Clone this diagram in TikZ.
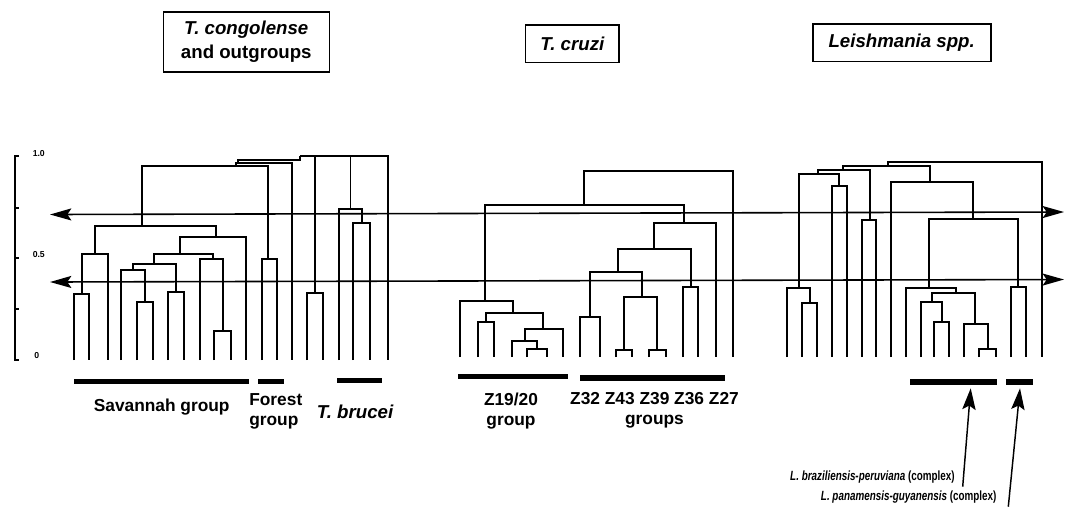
\documentclass[tikz,border=0pt]{standalone}
\usepackage{fontspec}
\setmainfont{Liberation Sans}
\newfontfamily\narrowsans[FakeStretch=0.74]{Liberation Sans}
\usetikzlibrary{arrows.meta}

\tikzset{
  link/.style={line width=1.3pt},
  bar/.style={line width=3.8pt},
  titlebox/.style={draw,line width=1.2pt,align=center,inner sep=0pt,
    font=\fontsize{14}{17.5}\selectfont\bfseries},
  grouplabel/.style={align=center,inner sep=0pt,
    font=\fontsize{13}{15}\selectfont\bfseries},
  cutline/.style={line width=1.2pt,
    {Stealth[length=16pt,width=9pt,inset=3pt]}-{Stealth[length=16pt,width=9pt,inset=3pt]}},
  pointer/.style={line width=1.1pt,-{Stealth[length=16pt,width=10pt,inset=3pt]}},
}

\begin{document}
\begin{tikzpicture}[x=0.75pt,y=-0.75pt]
        \useasboundingbox (0,0) rectangle (1065,508);

        % title boxes
        \begin{scope}[every node/.style={titlebox}]
          \node[minimum width=124.5pt,minimum height=45pt] (congo) at (246.3,41.7)
            {{\itshape T. congolense}\\and outgroups};
          \node[minimum width=70pt,minimum height=28pt] (cruzi) at (572.3,43.7)
            {\itshape T. cruzi};
          \node[minimum width=133.5pt,minimum height=28.3pt] (leish) at (901.7,42.8)
            {\itshape Leishmania spp.};
        \end{scope}

        % similarity scale
        \draw[link] (19,156) -- (15,156) -- (15,360) -- (19,360);
        \foreach \y in {207.7,257.7,309}
          \draw[link] (15,\y) -- (19,\y);
        \begin{scope}[every node/.style={anchor=west,inner sep=0pt,
            font=\fontsize{6.5}{7}\selectfont\bfseries}]
          \node (s10) at (32.5,154) {1.0};
          \node (s05) at (32.5,254.3) {0.5};
          \node (s00) at (34,356) {0};
        \end{scope}

        % dendrograms: x1/y1/x2/y2/height
        \foreach \xa/\ya/\xb/\yb/\h in {
            74/360/89.3/360/294, 81.7/294/107.7/360/254.3,
            136.7/360/153.3/360/301.7, 121/360/145/301.7/270,
            168.3/360/184.3/360/291.7, 132.7/270/176/291.7/264.3,
            214.3/360/231/360/331, 200/360/222.7/331/259.3,
            154/264.3/213.3/259.3/254.3, 180/254.3/246/360/237.3,
            95/254.3/216/237.3/226, 261.7/360/277.3/360/259.3,
            141.7/226/268.3/259.3/166, 306.7/360/323.3/360/292.7,
            353.3/360/370/360/223.3, 339.3/360/361.7/223.3/209.3,
            477.7/357/494/357/321.7, 527.3/357/547.3/357/349.3,
            512.3/357/537.3/349.3/341, 525/341/562.7/357/329.3,
            486/321.7/543.3/329.3/313.3, 460/357/513.3/313.3/301,
            580/357/600/357/316.7, 616/357/632.3/357/350,
            649.3/357/666/357/350, 624/350/657.3/350/296.7,
            590/316.7/641.7/296.7/271.7, 682.7/357/698.3/357/286.7,
            617.7/271.7/690.7/286.7/249, 654.3/249/716/357/223.3,
            485/301/684.3/223.3/205, 584/205/732.7/357/170.7,
            802.3/357/817.3/357/302.7, 786.7/357/810/302.7/288.3,
            831.7/357/847.3/357/186, 799.3/288.3/839.3/186/174.3,
            861.7/357/876/357/220, 818.3/174.3/870/220/170,
            934.3/357/949.3/357/321.7, 979.3/357/996/357/349.3,
            964.3/357/987.7/349.3/324.3, 921/357/941.7/321.7/302.3,
            931.7/302.3/975/324.3/293.3, 905.7/357/955.7/293.3/288.3,
            1011/357/1025.7/357/286.7, 929.3/288.3/1018.3/286.7/219.3,
            890.7/357/973.3/219.3/181.7, 843.3/170/930/181.7/166,
            887.7/166/1042.3/357/161.7}
          \draw[link] (\xa,\ya) |- (\xb,\h) -- (\xb,\yb);
        % top of the left tree
        \draw[link] (236,166) |- (292.3,163) -- (292.3,360);
        \draw[link] (238,163) -- (238,160) -- (300,160) -- (300,156);
        \draw[link] (300,156) -- (388.3,156) -- (388.3,360);
        \draw[link] (315,156) -- (315,292.7);
        \draw[link] (350.5,156) -- (350.5,209.3);

        % cut levels
        \coordinate (upL) at (50,214.5);
        \coordinate (upR) at (1064,212);
        \coordinate (loL) at (50,282);
        \coordinate (loR) at (1064,279.5);
        \draw[cutline] (upL) -- (upR);
        \draw[cutline] (loL) -- (loR);

        % group bars
        \draw[bar] (74,381.7) -- (249.3,381.7);
        \draw[bar] (258.3,381.7) -- (284.3,381.7);
        \draw[bar] (337.3,380.3) -- (382.3,380.3);
        \draw[bar] (458.3,376.7) -- (568.3,376.7);
        \draw[bar] (580,378) -- (725,378);
        \draw[bar] (910,382) -- (996.7,382);
        \draw[bar] (1006,382) -- (1033.3,382);

        % group labels
        \begin{scope}[every node/.style={grouplabel}]
          \node (sav) at (161.7,406.7) {Savannah group};
          \node[align=left] (forest) at (275.8,411.8) {Forest\\group};
          \node[font=\fontsize{14}{16}\selectfont\bfseries\itshape] (bru) at (355,411.7) {T. brucei};
          \node (z19) at (511,410.7) {Z19/20\\group};
          \node (z32) at (654.5,410) {Z32 Z43 Z39 Z36 Z27\\groups};
        \end{scope}

        \begin{scope}[every node/.style={anchor=east,inner sep=0pt,
            font=\narrowsans\fontsize{10}{12}\selectfont\bfseries}]
          \node (brz) at (955,476.7) {\itshape L. braziliensis-peruviana \upshape(complex)};
          \node (pan) at (996.7,496.7) {\itshape L. panamensis-guyanensis \upshape(complex)};
        \end{scope}
        \coordinate (brzfoot) at (962.7,486.7);
        \coordinate (brztip) at (970.7,388.3);
        \coordinate (panfoot) at (1008.3,506.7);
        \coordinate (pantip) at (1020,388.3);
        \draw[pointer] (brzfoot) -- (brztip);
        \draw[pointer] (panfoot) -- (pantip);

      \end{tikzpicture}
\end{document}
